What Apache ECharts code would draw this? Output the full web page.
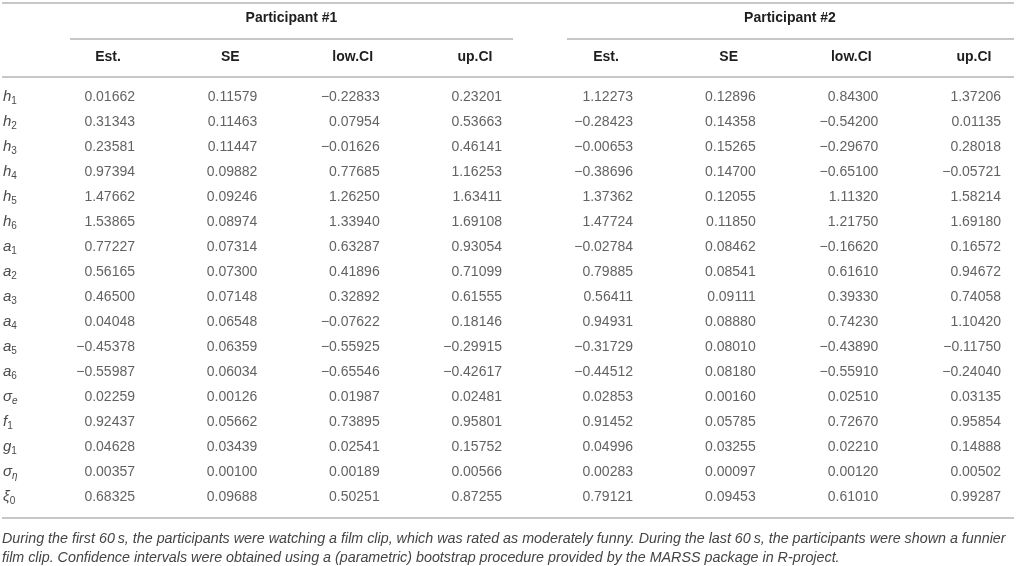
<!DOCTYPE html>
<html>
<head>
<meta charset="utf-8">
<script src="https://cdn.jsdelivr.net/npm/echarts@6/dist/echarts.min.js"></script>
<style>
  html, body { margin: 0; padding: 0; background: #fff; }
  #chart { width: 1016px; height: 566px; }
</style>
</head>
<body>
<div id="chart"></div>
<script>
// parameter table: two participants, est / SE / CI bounds
var rowNames = ["h1", "h2", "h3", "h4", "h5", "h6", "a1", "a2", "a3", "a4", "a5", "a6",
                "σe", "f1", "g1", "ση", "ξ0"];
var columns = ["Est.", "SE", "low.CI", "up.CI"];
var groups = ["Participant #1", "Participant #2"];

var p1Est = [0.01662, 0.31343, 0.23581, 0.97394, 1.47662, 1.53865, 0.77227, 0.56165, 0.46500,
             0.04048, -0.45378, -0.55987, 0.02259, 0.92437, 0.04628, 0.00357, 0.68325];
var p1SE  = [0.11579, 0.11463, 0.11447, 0.09882, 0.09246, 0.08974, 0.07314, 0.07300, 0.07148,
             0.06548, 0.06359, 0.06034, 0.00126, 0.05662, 0.03439, 0.00100, 0.09688];
var p1Low = [-0.22833, 0.07954, -0.01626, 0.77685, 1.26250, 1.33940, 0.63287, 0.41896, 0.32892,
             -0.07622, -0.55925, -0.65546, 0.01987, 0.73895, 0.02541, 0.00189, 0.50251];
var p1Up  = [0.23201, 0.53663, 0.46141, 1.16253, 1.63411, 1.69108, 0.93054, 0.71099, 0.61555,
             0.18146, -0.29915, -0.42617, 0.02481, 0.95801, 0.15752, 0.00566, 0.87255];

var p2Est = [1.12273, -0.28423, -0.00653, -0.38696, 1.37362, 1.47724, -0.02784, 0.79885, 0.56411,
             0.94931, -0.31729, -0.44512, 0.02853, 0.91452, 0.04996, 0.00283, 0.79121];
var p2SE  = [0.12896, 0.14358, 0.15265, 0.14700, 0.12055, 0.11850, 0.08462, 0.08541, 0.09111,
             0.08880, 0.08010, 0.08180, 0.00160, 0.05785, 0.03255, 0.00097, 0.09453];
var p2Low = [0.84300, -0.54200, -0.29670, -0.65100, 1.11320, 1.21750, -0.16620, 0.61610, 0.39330,
             0.74230, -0.43890, -0.55910, 0.02510, 0.72670, 0.02210, 0.00120, 0.61010];
var p2Up  = [1.37206, 0.01135, 0.28018, -0.05721, 1.58214, 1.69180, 0.16572, 0.94672, 0.74058,
             1.10420, -0.11750, -0.24040, 0.03135, 0.95854, 0.14888, 0.00502, 0.99287];

var footnote = [
  "During the first 60\u2009s, the participants were watching a film clip, which was rated as moderately funny. During the last 60\u2009s, the participants were shown a funnier",
  "film clip. Confidence intervals were obtained using a (parametric) bootstrap procedure provided by the MARSS package in R-project."
];

var FONT = "Liberation Sans, Arial, Helvetica, sans-serif";
var RULE = "#b4b4b4";

function fmt(v) {
  var s = Math.abs(v).toFixed(5);
  return v < 0 ? "\u2212" + s : s;
}

// h1 -> italic symbol + subscript; subscript letters stay italic, digits upright
function rowLabel(name) {
  var sym = name.charAt(0), sub = name.slice(1);
  var subStyle = /[0-9]/.test(sub) ? "s" : "si";
  return "{v|" + sym + "}{" + subStyle + "|" + sub + "}";
}

function colSeries(vals, col, gi) {
  return {
    type: "scatter",
    xAxisIndex: gi, yAxisIndex: gi,
    symbolSize: 1,
    itemStyle: { color: "rgba(0,0,0,0)" },
    silent: true,
    data: vals.map(function (v, r) { return [col, r, v]; }),
    label: {
      show: true, position: "inside", align: "right", offset: [27, 0],
      fontFamily: FONT, fontSize: 14, color: "#3a3a3a",
      formatter: function (p) { return fmt(p.data[2]); }
    }
  };
}

function xAx(gi) {
  return {
    type: "category", gridIndex: gi, data: columns, position: "top",
    boundaryGap: false,
    axisLine: { show: false }, axisTick: { show: false }, splitLine: { show: false },
    axisLabel: { interval: 0, margin: 40, verticalAlign: "middle",
                 fontFamily: FONT, fontSize: 14, fontWeight: "bold", color: "#1e1e1e" },
    name: groups[gi], nameLocation: "middle", nameGap: 79,
    nameTextStyle: { fontFamily: FONT, fontSize: 14, fontWeight: "bold", color: "#1e1e1e",
                     verticalAlign: "middle" }
  };
}

function yAx(gi) {
  return {
    type: "category", gridIndex: gi, data: rowNames, inverse: true,
    boundaryGap: false,
    axisLine: { show: false }, axisTick: { show: false }, splitLine: { show: false },
    axisLabel: {
      show: gi === 0, interval: 0, align: "left", margin: 105,
      formatter: rowLabel,
      rich: {
        v: { fontFamily: FONT, fontSize: 15, fontStyle: "italic", color: "#4a4a4a" },
        s: { fontFamily: FONT, fontSize: 10, color: "#4a4a4a", padding: [8, 0, 0, 0] },
        si: { fontFamily: FONT, fontSize: 10, fontStyle: "italic", color: "#4a4a4a",
              padding: [8, 0, 0, 0] }
      }
    }
  };
}

function rule(x1, x2, y) {
  return { type: "line", shape: { x1: x1, y1: y, x2: x2, y2: y },
           style: { stroke: RULE, lineWidth: 1.5 }, silent: true };
}

var chart = echarts.init(document.getElementById("chart"), null, { renderer: "canvas" });
chart.setOption({
  backgroundColor: "#fff",
  animation: false,
  title: {
    text: footnote.join("\n"), left: 2, top: 530, padding: 0,
    textStyle: { fontFamily: FONT, fontSize: 14.3, fontStyle: "italic", fontWeight: "normal",
                 color: "#444", lineHeight: 19 }
  },
  grid: [
    { left: 108, top: 97, width: 367, height: 400 },
    { left: 606, top: 97, width: 368, height: 400 }
  ],
  xAxis: [xAx(0), xAx(1)],
  yAxis: [yAx(0), yAx(1)],
  series: [
    colSeries(p1Est, 0, 0), colSeries(p1SE, 1, 0), colSeries(p1Low, 2, 0), colSeries(p1Up, 3, 0),
    colSeries(p2Est, 0, 1), colSeries(p2SE, 1, 1), colSeries(p2Low, 2, 1), colSeries(p2Up, 3, 1)
  ],
  graphic: [
    rule(2, 1014, 3),
    rule(70, 513, 39),
    rule(567, 1014, 39),
    rule(2, 1014, 77),
    rule(2, 1014, 518)
  ]
});
</script>
</body>
</html>
